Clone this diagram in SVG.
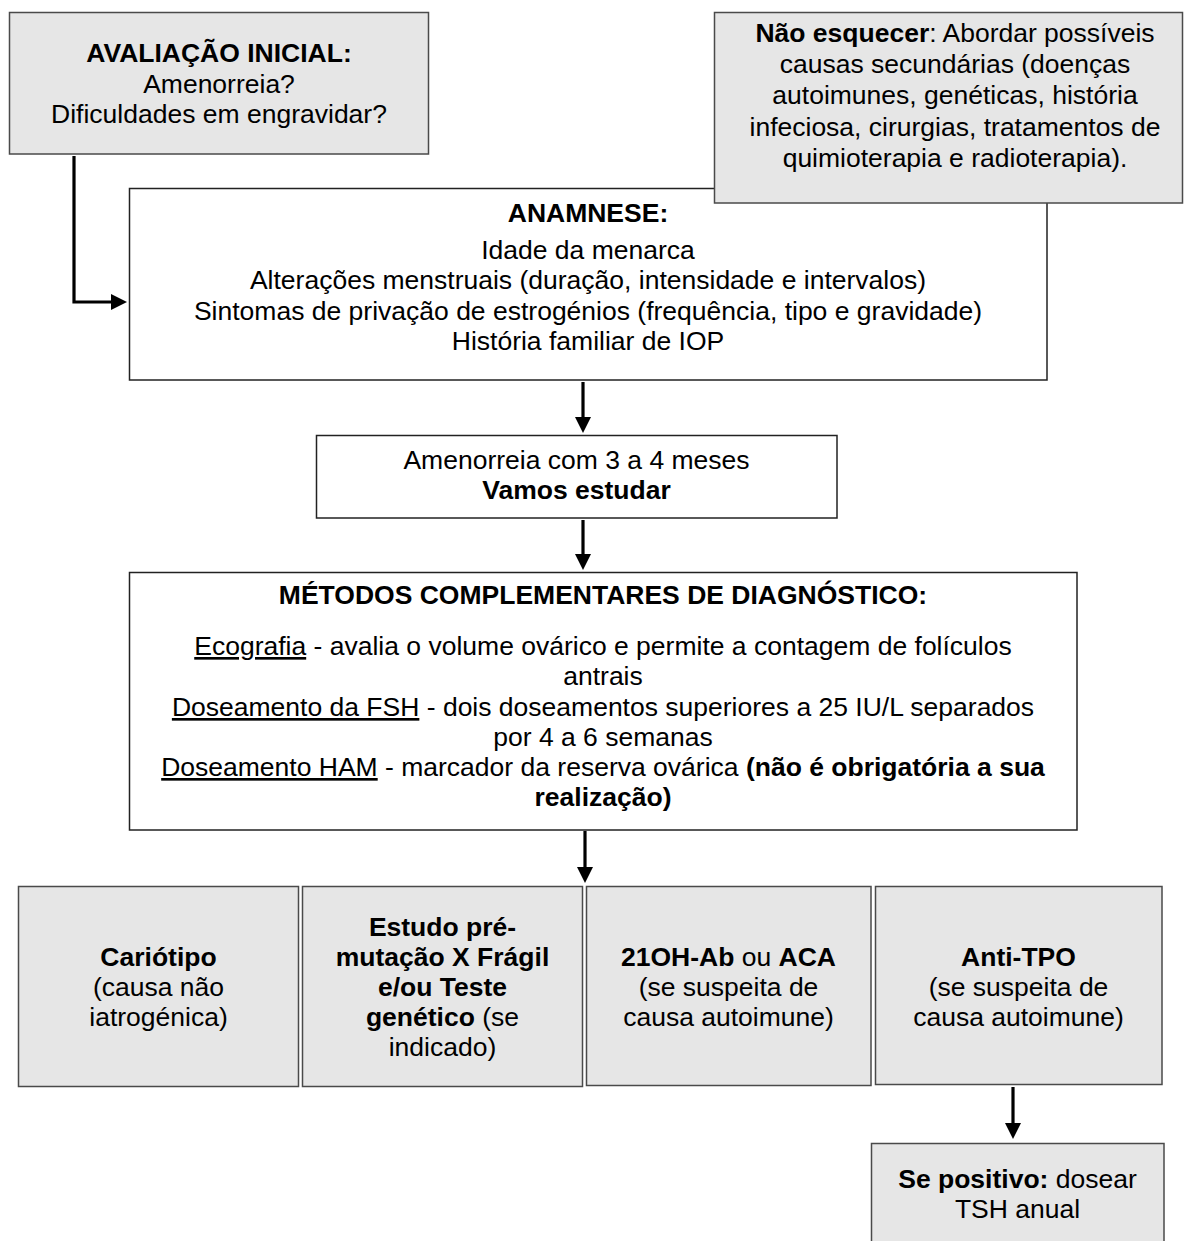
<svg xmlns="http://www.w3.org/2000/svg" width="1184" height="1241" viewBox="0 0 1184 1241">
<style>
.t{font-family:"Liberation Sans",Arial,sans-serif;font-size:26.5px;fill:#000;text-anchor:middle}
.b{font-weight:bold}
.u{text-decoration:underline}
.g{fill:#e6e6e6;stroke:#4a4a4a;stroke-width:1.5}
.w{fill:#fff;stroke:#222;stroke-width:1.5}
.c{fill:none;stroke:#000;stroke-width:3.2}
</style>
<defs>
<marker id="ah" markerUnits="userSpaceOnUse" markerWidth="16" markerHeight="16" refX="2" refY="8" orient="auto">
<path d="M0,0 L16,8 L0,16 z" fill="#000"/>
</marker>
</defs>
<rect width="1184" height="1241" fill="#fff"/>

<g id="avaliacao">
<rect class="g" x="9.5" y="12.5" width="419" height="141.5"/>
<text class="t" x="219" y="62"><tspan class="b">AVALIAÇÃO INICIAL:</tspan></text>
<text class="t" x="219" y="93">Amenorreia?</text>
<text class="t" x="219" y="123">Dificuldades em engravidar?</text>
</g>

<g id="anamnese">
<rect class="w" x="129.5" y="188.5" width="917.5" height="191.5"/>
<text class="t b" x="588" y="222">ANAMNESE:</text>
<text class="t" x="588" y="259">Idade da menarca</text>
<text class="t" x="588" y="289">Alterações menstruais (duração, intensidade e intervalos)</text>
<text class="t" x="588" y="320">Sintomas de privação de estrogénios (frequência, tipo e gravidade)</text>
<text class="t" x="588" y="350">História familiar de IOP</text>
</g>

<g id="nao_esquecer">
<rect class="g" x="714.5" y="12.5" width="468" height="190.5"/>
<text class="t" x="955" y="42"><tspan class="b">Não esquecer</tspan>: Abordar possíveis</text>
<text class="t" x="955" y="73">causas secundárias (doenças</text>
<text class="t" x="955" y="104">autoimunes, genéticas, história</text>
<text class="t" x="955" y="136">infeciosa, cirurgias, tratamentos de</text>
<text class="t" x="955" y="167">quimioterapia e radioterapia).</text>
</g>

<g id="amenorreia">
<rect class="w" x="316.5" y="435.5" width="520.5" height="82.5"/>
<text class="t" x="576.5" y="469">Amenorreia com 3 a 4 meses</text>
<text class="t b" x="576.5" y="499">Vamos estudar</text>
</g>

<g id="metodos">
<rect class="w" x="129.5" y="572.5" width="947.5" height="257.5"/>
<text class="t b" x="603" y="604">MÉTODOS COMPLEMENTARES DE DIAGNÓSTICO:</text>
<text class="t" x="603" y="655"><tspan class="u">Ecografia</tspan> - avalia o volume ovárico e permite a contagem de folículos</text>
<text class="t" x="603" y="685">antrais</text>
<text class="t" x="603" y="716"><tspan class="u">Doseamento da FSH</tspan> - dois doseamentos superiores a 25 IU/L separados</text>
<text class="t" x="603" y="746">por 4 a 6 semanas</text>
<text class="t" x="603" y="776"><tspan class="u">Doseamento HAM</tspan> - marcador da reserva ovárica <tspan class="b">(não é obrigatória a sua</tspan></text>
<text class="t b" x="603" y="806">realização)</text>
</g>

<g id="cariotipo">
<rect class="g" x="18.5" y="886.5" width="280" height="200"/>
<text class="t b" x="158.5" y="966">Cariótipo</text>
<text class="t" x="158.5" y="996">(causa não</text>
<text class="t" x="158.5" y="1026">iatrogénica)</text>
</g>

<g id="x_fragil">
<rect class="g" x="302.5" y="886.5" width="280" height="200"/>
<text class="t b" x="442.5" y="936">Estudo pré-</text>
<text class="t b" x="442.5" y="966">mutação X Frágil</text>
<text class="t b" x="442.5" y="996">e/ou Teste</text>
<text class="t" x="442.5" y="1026"><tspan class="b">genético</tspan> (se</text>
<text class="t" x="442.5" y="1056">indicado)</text>
</g>

<g id="ab21oh">
<rect class="g" x="586.5" y="886.5" width="284.5" height="199"/>
<text class="t" x="728.5" y="966"><tspan class="b">21OH-Ab</tspan> ou <tspan class="b">ACA</tspan></text>
<text class="t" x="728.5" y="996">(se suspeita de</text>
<text class="t" x="728.5" y="1026">causa autoimune)</text>
</g>

<g id="anti_tpo">
<rect class="g" x="875.5" y="886.5" width="286.5" height="198"/>
<text class="t b" x="1018.5" y="966">Anti-TPO</text>
<text class="t" x="1018.5" y="996">(se suspeita de</text>
<text class="t" x="1018.5" y="1026">causa autoimune)</text>
</g>

<g id="se_positivo">
<rect class="g" x="871.5" y="1143.5" width="292.5" height="110"/>
<text class="t" x="1017.5" y="1188"><tspan class="b">Se positivo:</tspan> dosear</text>
<text class="t" x="1017.5" y="1218">TSH anual</text>
</g>

<g id="connectors">
<path class="c" d="M74,156 V302 H113" marker-end="url(#ah)"/>
<path class="c" d="M583,382 V419" marker-end="url(#ah)"/>
<path class="c" d="M583,520 V556" marker-end="url(#ah)"/>
<path class="c" d="M585,831 V869" marker-end="url(#ah)"/>
<path class="c" d="M1013,1087 V1125" marker-end="url(#ah)"/>
</g>
</svg>
